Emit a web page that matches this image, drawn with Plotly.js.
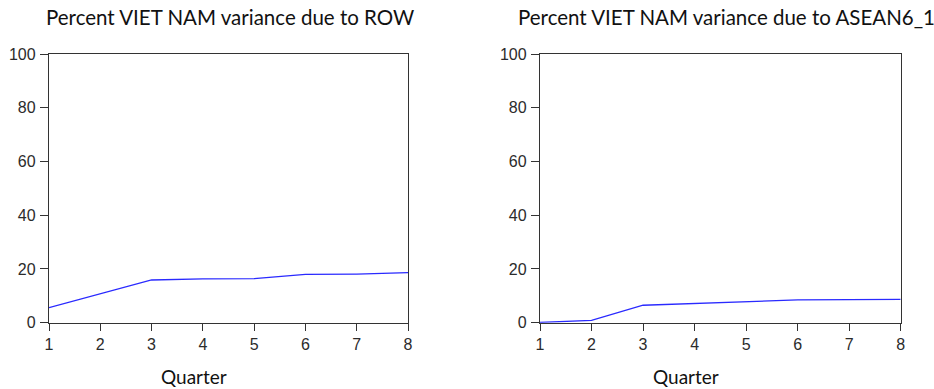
<!DOCTYPE html>
<html>
<head>
<meta charset="utf-8">
<script src="https://cdn.plot.ly/plotly-3.0.1.min.js"></script>
<style>html,body{margin:0;padding:0;background:#fff;}#chart{width:934px;height:389px;}</style>
</head>
<body>
<div id="chart"></div>
<script>
const quarters = [1, 2, 3, 4, 5, 6, 7, 8];
const rowShare = [5.6, 10.8, 15.9, 16.3, 16.4, 18.0, 18.1, 18.6];
const aseanShare = [0.1, 0.9, 6.5, 7.1, 7.9, 8.5, 8.6, 8.7];
const yTicks = [0, 20, 40, 60, 80, 100];
const panelTitles = ["Percent VIET NAM variance due to ROW", "Percent VIET NAM variance due to ASEAN6_1"];
const xLabel = "Quarter";

const W = 934, H = 389;
const px = v => v / W;
const py = v => (H - v) / H;

const lineStyle = {color: '#2a2aff', width: 1.3};
const traces = [
  {x: quarters, y: rowShare, type: 'scatter', mode: 'lines', line: lineStyle, xaxis: 'x', yaxis: 'y', showlegend: false, hoverinfo: 'skip'},
  {x: quarters, y: aseanShare, type: 'scatter', mode: 'lines', line: lineStyle, xaxis: 'x2', yaxis: 'y2', showlegend: false, hoverinfo: 'skip'}
];

const tickFont = {family: 'Liberation Sans, Arial, sans-serif', size: 16, color: '#2b2b2b'};
function xAx(d0, d1, anchor) {
  return {domain: [px(d0), px(d1)], anchor: anchor, range: [1, 8], tickvals: quarters, ticktext: quarters.map(String),
    ticks: 'outside', ticklen: 7, tickwidth: 1, tickcolor: '#333', showline: true, linecolor: '#333', linewidth: 1.2,
    mirror: true, showgrid: false, zeroline: false, tickfont: tickFont, ticklabelstandoff: 0, fixedrange: true};
}
function yAx(anchor) {
  return {domain: [py(322.7), py(54)], anchor: anchor, range: [0, 100], tickvals: yTicks, ticktext: yTicks.map(String),
    ticks: 'outside', ticklen: 8, tickwidth: 1, tickcolor: '#333', showline: true, linecolor: '#333', linewidth: 1.2,
    mirror: true, showgrid: false, zeroline: false, tickfont: tickFont, ticklabelstandoff: 1, fixedrange: true};
}

const titleFont = {family: 'Lato, Noto Sans, sans-serif', size: 20.5, color: '#111'};
const labelFont = {family: 'Lato, Noto Sans, sans-serif', size: 19, color: '#111'};

const layout = {
  width: W, height: H,
  margin: {l: 0, r: 0, t: 0, b: 0},
  paper_bgcolor: '#fff', plot_bgcolor: '#fff',
  xaxis: xAx(49, 408, 'y'),
  yaxis: yAx('x'),
  xaxis2: xAx(540, 900.7, 'y2'),
  yaxis2: yAx('x2'),
  annotations: [
    {text: panelTitles[0], xref: 'paper', yref: 'paper', x: px(230), y: py(17), xanchor: 'center', yanchor: 'middle', showarrow: false, font: titleFont},
    {text: panelTitles[1], xref: 'paper', yref: 'paper', x: px(726), y: py(17), xanchor: 'center', yanchor: 'middle', showarrow: false, font: titleFont},
    {text: xLabel, xref: 'paper', yref: 'paper', x: px(194), y: py(376), xanchor: 'center', yanchor: 'middle', showarrow: false, font: labelFont},
    {text: xLabel, xref: 'paper', yref: 'paper', x: px(686), y: py(376), xanchor: 'center', yanchor: 'middle', showarrow: false, font: labelFont}
  ]
};

Plotly.newPlot('chart', traces, layout, {displayModeBar: false, staticPlot: true});
</script>
</body>
</html>
